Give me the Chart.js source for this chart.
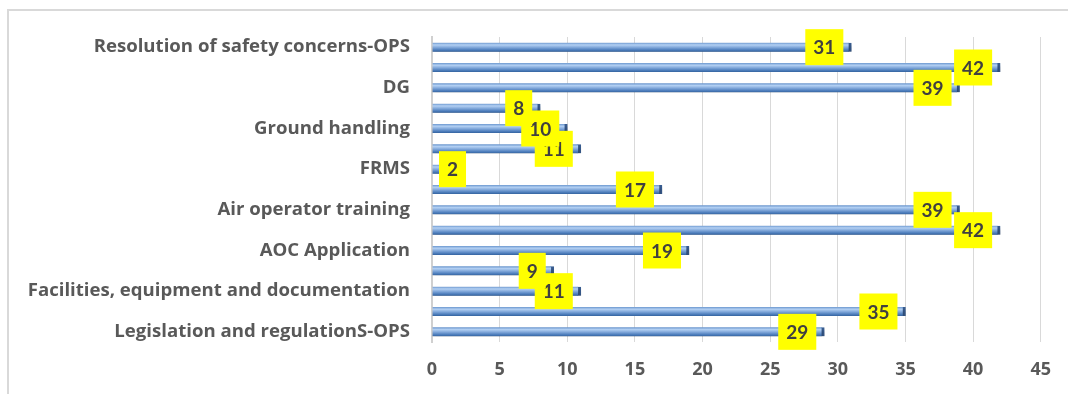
<!DOCTYPE html>
<html>
<head>
<meta charset="utf-8">
<script src="https://cdn.jsdelivr.net/npm/chart.js@4/dist/chart.umd.min.js"></script>
<style>
  html, body { margin: 0; padding: 0; background: #ffffff; overflow: hidden; }
  #wrap { position: relative; width: 1068px; height: 394px; }
  #frame {
    position: absolute; left: 7px; top: 9px; width: 1100px; height: 420px;
    border: 2px solid #d9d9d9; pointer-events: none;
  }
  canvas { position: absolute; left: 0; top: 0; }
</style>
</head>
<body>
<div id="wrap">
  <div id="frame"></div>
  <canvas id="chart" width="1068" height="394"></canvas>
</div>
<script>
// Categories listed from the bottom of the chart upwards; blank entries have no printed label.
const categories = [
  'Legislation and regulationS-OPS',
  '',
  'Facilities, equipment and documentation',
  '',
  'AOC Application',
  '',
  'Air operator training',
  '',
  'FRMS',
  '',
  'Ground handling',
  '',
  'DG',
  '',
  'Resolution of safety concerns-OPS'
];
const values = [29, 35, 11, 9, 19, 42, 39, 17, 2, 11, 10, 8, 39, 42, 31];
const xTickMin = 0;
const xTickMax = 45;
const xTickStep = 5;

const BAR_THICK = 9;

// Cylinder-like shading for each bar, built around the bar's own row.
function barGradient(c) {
  const chart = c.chart;
  const ys = chart.scales.y;
  if (!ys || c.dataIndex === undefined) return '#7ea6da';
  const y = ys.getPixelForValue(c.dataIndex);
  if (!Number.isFinite(y)) return '#7ea6da';
  const h = BAR_THICK / 2;
  const g = chart.ctx.createLinearGradient(0, y - h, 0, y + h);
  g.addColorStop(0.00, '#6b97cf');
  g.addColorStop(0.25, '#b3d0f3');
  g.addColorStop(0.50, '#86acdd');
  g.addColorStop(0.80, '#4f7fbd');
  g.addColorStop(1.00, '#34639f');
  return g;
}

// Soft drop shadow under the bars, then yellow value boxes at the bar ends.
const barDecor = {
  id: 'barDecor',
  beforeDatasetsDraw(chart) {
    const ctx = chart.ctx;
    ctx.save();
    ctx.shadowColor = 'rgba(0,0,0,0.38)';
    ctx.shadowBlur = 4;
    ctx.shadowOffsetY = 3;
    ctx.shadowOffsetX = 1;
  },
  afterDatasetsDraw(chart) {
    const ctx = chart.ctx;
    ctx.restore();
    const meta = chart.getDatasetMeta(0);
    const data = chart.data.datasets[0].data;
    const left0 = chart.chartArea.left;
    ctx.save();
    ctx.font = 'bold 19px Lato';
    ctx.textAlign = 'center';
    ctx.textBaseline = 'middle';
    meta.data.forEach((el, i) => {
      const txt = String(data[i]);
      const tw = ctx.measureText(txt).width;
      const w = tw + 16;
      const h = 36;
      const x = Math.max(el.x - 8 - w, left0 + 7);
      const y = el.y - h / 2;
      ctx.fillStyle = '#ffff00';
      ctx.fillRect(x, y, w, h);
      ctx.fillStyle = '#404040';
      ctx.fillText(txt, x + w / 2, el.y + 1);
    });
    ctx.restore();
  }
};

new Chart(document.getElementById('chart'), {
  type: 'bar',
  data: {
    labels: categories,
    datasets: [{
      data: values,
      backgroundColor: barGradient,
      borderColor: '#3a5f94',
      borderWidth: { right: 3, left: 0, top: 0, bottom: 0 },
      borderSkipped: false,
      barThickness: BAR_THICK
    }]
  },
  options: {
    indexAxis: 'y',
    responsive: false,
    devicePixelRatio: 1,
    animation: false,
    layout: { padding: { top: 37, right: 24, left: 0, bottom: 0 } },
    plugins: {
      legend: { display: false },
      tooltip: { enabled: false },
      title: { display: false }
    },
    scales: {
      y: {
        reverse: true,
        afterFit(s) { s.width = 432; },
        grid: { drawOnChartArea: false, drawTicks: false },
        border: { display: true, color: '#d0d0d0', width: 2 },
        ticks: {
          autoSkip: false,
          padding: 22,
          color: '#595959',
          font: { family: "'Open Sans'", weight: 'bold', size: 18.6 }
        }
      },
      x: {
        min: xTickMin,
        max: xTickMax,
        afterFit(s) { s.height = 52; },
        grid: { color: '#d9d9d9', lineWidth: 1, drawTicks: false },
        border: { display: false },
        ticks: {
          stepSize: xTickStep,
          padding: 17,
          color: '#595959',
          font: { family: "'Open Sans'", weight: 'bold', size: 18 }
        }
      }
    }
  },
  plugins: [barDecor]
});
</script>
</body>
</html>
